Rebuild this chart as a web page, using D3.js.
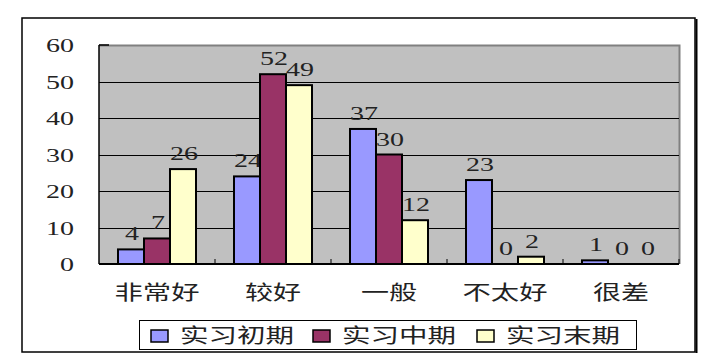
<!DOCTYPE html>
<html>
<head>
<meta charset="utf-8">
<script src="https://cdn.jsdelivr.net/npm/d3@7"></script>
<style>
  body { margin: 0; background: #fff; }
  svg { display: block; }
</style>
</head>
<body>
<div id="chart"></div>
<script>
var categories = ['非常好', '较好', '一般', '不太好', '很差'];
var seriesNames = ['实习初期', '实习中期', '实习末期'];
var early = [4, 24, 37, 23, 1];
var middle = [7, 52, 30, 0, 0];
var late = [26, 49, 12, 2, 0];
var yTicks = [0, 10, 20, 30, 40, 50, 60];
var colors = ['#9999ff', '#993366', '#ffffcc'];

var W = 717, H = 357;
var plot = { left: 99, top: 45, right: 679, bottom: 264 };
var cjk = '"Noto Sans CJK SC", sans-serif';
var num = '"Liberation Serif", serif';

// wide glyphs like the original (stretched horizontally)
function numLen(d) { return String(d).length * 14; }
function cjkLen(s) { return s.length * 29 - 2; }

var svg = d3.select('#chart')
    .append('svg')
    .attr('width', W)
    .attr('height', H);

// outer frame
svg.append('rect')
    .attr('x', 22).attr('y', 18)
    .attr('width', 673).attr('height', 334)
    .style('fill', '#fff')
    .style('stroke', '#000')
    .style('stroke-width', 1.5);
svg.append('line')
    .attr('x1', 696.5).attr('x2', 696.5).attr('y1', 19).attr('y2', 353)
    .style('stroke', '#000').style('stroke-width', 2);

var x0 = d3.scaleBand()
    .domain(categories)
    .range([plot.left, plot.right])
    .paddingInner(0.3276)
    .paddingOuter(0.1638);

var x1 = d3.scaleBand()
    .domain(d3.range(seriesNames.length))
    .range([0, x0.bandwidth()]);

var y = d3.scaleLinear()
    .domain([0, 60])
    .range([plot.bottom, plot.top]);

// plot background
svg.append('rect')
    .attr('x', plot.left).attr('y', plot.top)
    .attr('width', plot.right - plot.left)
    .attr('height', plot.bottom - plot.top)
    .style('fill', '#c0c0c0');

// top / right border (grey)
svg.append('path')
    .attr('d', 'M' + plot.left + ',' + (plot.top + 0.5) + 'H' + (plot.right + 0.5) + 'V' + plot.bottom)
    .style('fill', 'none')
    .style('stroke', '#808080')
    .style('stroke-width', 2);

// gridlines
svg.append('g')
    .selectAll('line')
    .data(yTicks.filter(function(d) { return d > 0 && d < 60; }))
    .enter()
    .append('line')
    .attr('x1', plot.left)
    .attr('x2', plot.right)
    .attr('y1', function(d) { return Math.round(y(d)) + 0.5; })
    .attr('y2', function(d) { return Math.round(y(d)) + 0.5; })
    .style('stroke', '#000')
    .style('stroke-width', 1);

// bars
var series = [early, middle, late];
var groups = svg.append('g')
    .selectAll('g')
    .data(series)
    .enter()
    .append('g');

groups.selectAll('rect')
    .data(function(d, i) {
        return d.map(function(v, j) { return { s: i, c: categories[j], v: v }; });
    })
    .enter()
    .filter(function(d) { return d.v > 0; })
    .append('rect')
    .attr('x', function(d) { return x0(d.c) + x1(d.s); })
    .attr('y', function(d) { return y(d.v); })
    .attr('width', x1.bandwidth())
    .attr('height', function(d) { return plot.bottom - y(d.v); })
    .style('fill', function(d) { return colors[d.s]; })
    .style('stroke', '#000')
    .style('stroke-width', 2);

// value labels
groups.selectAll('text')
    .data(function(d, i) {
        return d.map(function(v, j) { return { s: i, c: categories[j], v: v }; });
    })
    .enter()
    .append('text')
    .attr('x', function(d) { return x0(d.c) + x1(d.s) + x1.bandwidth() / 2 + 1 - numLen(d.v) / 2; })
    .attr('y', function(d) { return y(d.v) - 9; })
    .attr('textLength', function(d) { return numLen(d.v); })
    .attr('lengthAdjust', 'spacingAndGlyphs')
    .style('font-family', num)
    .style('font-size', '19px')
    .style('fill', '#222')
    .text(function(d) { return d.v; });

// axes lines
svg.append('line')
    .attr('x1', plot.left).attr('x2', plot.left)
    .attr('y1', plot.top).attr('y2', plot.bottom)
    .style('stroke', '#000').style('stroke-width', 1.5);
svg.append('line')
    .attr('x1', plot.left).attr('x2', plot.left + 10)
    .attr('y1', plot.top).attr('y2', plot.top)
    .style('stroke', '#000').style('stroke-width', 1.5);
svg.append('line')
    .attr('x1', plot.left).attr('x2', plot.right)
    .attr('y1', plot.bottom).attr('y2', plot.bottom)
    .style('stroke', '#000').style('stroke-width', 2);

// category ticks (pointing up)
svg.append('g')
    .selectAll('line')
    .data(categories)
    .enter()
    .append('line')
    .attr('x1', function(d) { return x0(d) + x0.bandwidth() + x0.step() * 0.3276 / 2; })
    .attr('x2', function(d) { return x0(d) + x0.bandwidth() + x0.step() * 0.3276 / 2; })
    .attr('y1', plot.bottom)
    .attr('y2', plot.bottom - 5)
    .style('stroke', '#000')
    .style('stroke-width', 1);

// y tick labels
svg.append('g')
    .selectAll('text')
    .data(yTicks)
    .enter()
    .append('text')
    .attr('x', function(d) { return 74 - numLen(d); })
    .attr('y', function(d) { return y(d) + 7; })
    .attr('textLength', function(d) { return numLen(d); })
    .attr('lengthAdjust', 'spacingAndGlyphs')
    .style('font-family', num)
    .style('font-size', '19px')
    .style('fill', '#222')
    .text(function(d) { return d; });

// category labels
svg.append('g')
    .selectAll('text')
    .data(categories)
    .enter()
    .append('text')
    .attr('x', function(d) { return x0(d) + x0.bandwidth() / 2 - cjkLen(d) / 2; })
    .attr('y', 300)
    .attr('textLength', function(d) { return cjkLen(d); })
    .attr('lengthAdjust', 'spacingAndGlyphs')
    .style('font-family', cjk)
    .style('font-size', '20px')
    .style('fill', '#222')
    .text(function(d) { return d; });

// legend
var legend = svg.append('g');
legend.append('rect')
    .attr('x', 139.5).attr('y', 320.5)
    .attr('width', 497).attr('height', 29)
    .style('fill', '#fff')
    .style('stroke', '#000')
    .style('stroke-width', 1);

var lx = [151, 313, 477];
var items = legend.selectAll('g.item')
    .data(seriesNames)
    .enter()
    .append('g')
    .attr('class', 'item')
    .attr('transform', function(d, i) { return 'translate(' + lx[i] + ',0)'; });

items.append('rect')
    .attr('x', 0).attr('y', 330)
    .attr('width', 17).attr('height', 12)
    .style('fill', function(d, i) { return colors[i]; })
    .style('stroke', '#000')
    .style('stroke-width', 1.5);

items.append('text')
    .attr('x', 29)
    .attr('y', 343)
    .attr('textLength', function(d) { return cjkLen(d); })
    .attr('lengthAdjust', 'spacingAndGlyphs')
    .style('font-family', cjk)
    .style('font-size', '20px')
    .style('fill', '#222')
    .text(function(d) { return d; });
</script>
</body>
</html>
